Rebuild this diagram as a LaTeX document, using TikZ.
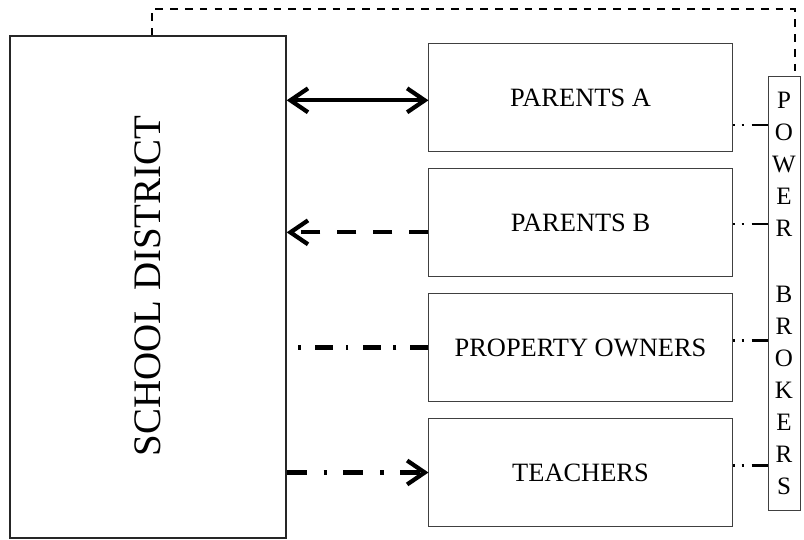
\documentclass[tikz,border=0pt]{standalone}
\usepackage{fontspec}
\setmainfont{Liberation Serif}
\usetikzlibrary{arrows.meta}
\tikzset{group/.style={draw=black!75, line width=0.7pt, minimum width=7.575cm, minimum height=2.675cm, inner sep=0pt, font=\fontsize{18.8}{22}\selectfont}}
\tikzset{flow/.style={line width=3pt}}
\tikzset{barb/.tip={Straight Barb[length=12.5pt, width=17pt]}}
\tikzset{tie/.style={line width=1.5pt, dash pattern=on 1.4pt off 5pt on 1.4pt off 5.7pt on 13pt}}

\begin{document}
\begin{tikzpicture}[x=0.025cm, y=-0.025cm]
            \useasboundingbox (0,0) rectangle (804,540);
            \node[group, minimum width=6.9cm, minimum height=12.55cm, line width=0.9pt, draw=black!85] (district) at (148,287) {};
            \node[rotate=90, font=\fontsize{27.7}{30}\selectfont] (districtlabel) at (148,286) {SCHOOL DISTRICT};
            \node[group] (parentsA) at (580.5,97.5) {PARENTS A};
            \node[group] (parentsB) at (580.5,222.5) {PARENTS B};
            \node[group] (owners) at (580.5,347.5) {PROPERTY OWNERS};
            \node[group] (teachers) at (580.5,472.5) {TEACHERS};
            \node[draw=black!75, line width=0.7pt, minimum width=0.8cm, minimum height=10.825cm, inner sep=0pt, align=center, font=\fontsize{17.8}{22.8}\selectfont] (brokers) at (784,293.5) {P\\O\\W\\E\\R\\[23.5pt]B\\R\\O\\K\\E\\R\\S};
            \coordinate (pA) at ([yshift=-2pt]parentsA.west);
            \coordinate (pB) at ([yshift=-7pt]parentsB.west);
            \coordinate (pO) at (owners.west);
            \coordinate (pT) at (teachers.west);
            \draw[flow, barb-barb] (pA -| district.east) -- (pA);
            \draw[flow, -barb, dash pattern=on 14.2pt off 11.4pt] (pB) -- (pB -| district.east);
            \draw[flow, dash pattern=on 12.8pt off 10pt on 2.1pt off 9.2pt] (pO) -- ([xshift=7.8pt]pO -| district.east);
            \draw[flow, -barb, dash pattern=on 14.2pt off 12pt on 2.8pt off 11.4pt] (pT -| district.east) -- (pT);
            \coordinate (qA) at ([yshift=-19.5pt]parentsA.east);
            \coordinate (qB) at ([yshift=-1pt]parentsB.east);
            \coordinate (qO) at ([yshift=5pt]owners.east);
            \coordinate (qT) at ([yshift=5pt]teachers.east);
            \draw[tie] (qA) -- (qA -| brokers.west);
            \draw[tie] (qB) -- (qB -| brokers.west);
            \draw[tie] (qO) -- (qO -| brokers.west);
            \draw[tie] (qT) -- (qT -| brokers.west);
            \coordinate (up) at ([xshift=2.8pt]district.north);
            \coordinate (down) at ([xshift=7.8pt]brokers.north);
            \draw[line width=1.6pt, dash pattern=on 5.5pt off 5pt] (up) -- ++(0,-26) -| (down);
        \end{tikzpicture}
\end{document}
